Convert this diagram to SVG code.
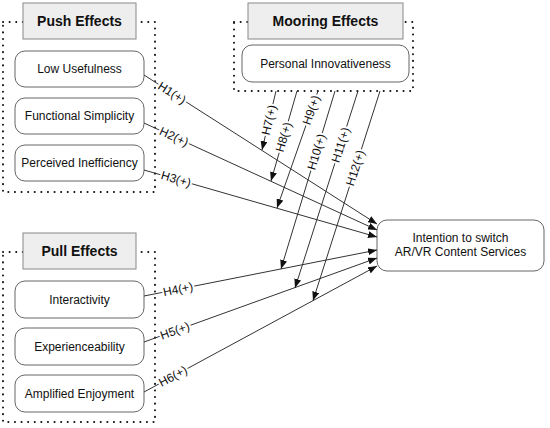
<svg xmlns="http://www.w3.org/2000/svg" width="550" height="428" viewBox="0 0 550 428">
<defs>
<style>
.dot{fill:none;stroke:#111;stroke-width:2;stroke-dasharray:0.1 6.5;stroke-linecap:round}
.hdr{fill:#eeeeee;stroke:#888;stroke-width:1}
.node{fill:#fff;stroke:#666;stroke-width:1}
.ht{font-family:"Liberation Sans",Arial,sans-serif;font-size:14px;font-weight:bold;fill:#111;text-anchor:middle;dominant-baseline:central}
.nt{font-family:"Liberation Sans",Arial,sans-serif;font-size:12px;fill:#111;text-anchor:middle;dominant-baseline:central}
.ln{stroke:#333;stroke-width:1;fill:none;marker-end:url(#ah)}
.lb{font-family:"Liberation Sans",Arial,sans-serif;font-size:12px;fill:#111;text-anchor:middle;dominant-baseline:central;stroke:#fff;stroke-width:4;paint-order:stroke;stroke-linejoin:round}
</style>
<marker id="ah" markerUnits="userSpaceOnUse" markerWidth="9" markerHeight="7" refX="9" refY="3.5" orient="auto">
<path d="M0,0 L9,3.5 L0,7 z" fill="#111"/>
</marker>
</defs>
<rect class="dot" x="3" y="22" width="152" height="170"/>
<rect class="dot" x="234" y="22" width="179" height="69"/>
<rect class="dot" x="3" y="252" width="152" height="170"/>
<g id="push-header"><rect class="hdr" x="23" y="3" width="113" height="36"/><text class="ht" x="79.5" y="21">Push Effects</text></g>
<g id="mooring-header"><rect class="hdr" x="248" y="3" width="155" height="36"/><text class="ht" x="325.5" y="21">Mooring Effects</text></g>
<g id="pull-header"><rect class="hdr" x="23" y="233" width="113" height="36"/><text class="ht" x="79.5" y="251">Pull Effects</text></g>
<g id="low-usefulness"><rect class="node" x="15" y="51" width="129" height="36" rx="10"/><text class="nt" x="79.5" y="69">Low Usefulness</text></g>
<g id="functional-simplicity"><rect class="node" x="15" y="98" width="129" height="36" rx="10"/><text class="nt" x="79.5" y="116">Functional Simplicity</text></g>
<g id="perceived-inefficiency"><rect class="node" x="15" y="145" width="129" height="36" rx="10"/><text class="nt" x="79.5" y="163">Perceived Inefficiency</text></g>
<g id="personal-innovativeness"><rect class="node" x="242" y="45" width="167" height="37" rx="10"/><text class="nt" x="325.5" y="63.5">Personal Innovativeness</text></g>
<g id="interactivity"><rect class="node" x="15" y="281" width="129" height="37" rx="10"/><text class="nt" x="79.5" y="299.5">Interactivity</text></g>
<g id="experienceability"><rect class="node" x="15" y="328" width="129" height="37" rx="10"/><text class="nt" x="79.5" y="346.5">Experienceability</text></g>
<g id="amplified-enjoyment"><rect class="node" x="15" y="375" width="129" height="37" rx="10"/><text class="nt" x="79.5" y="393.5">Amplified Enjoyment</text></g>
<g id="intention"><rect class="node" x="377" y="220" width="167" height="51" rx="10"/><text class="nt" x="460.5" y="238">Intention to switch</text><text class="nt" x="460.5" y="252">AR/VR Content Services</text></g>
<g id="connectors">
<line class="ln" x1="144" y1="75" x2="377" y2="224"/>
<line class="ln" x1="144" y1="123" x2="377" y2="230"/>
<line class="ln" x1="144" y1="170" x2="377" y2="237"/>
<line class="ln" x1="144" y1="296" x2="377" y2="250"/>
<line class="ln" x1="144" y1="342" x2="377" y2="258"/>
<line class="ln" x1="144" y1="392" x2="377" y2="266"/>
<line class="ln" x1="276" y1="91" x2="262" y2="150"/>
<line class="ln" x1="297" y1="91" x2="271" y2="181"/>
<line class="ln" x1="318" y1="91" x2="277" y2="208"/>
<line class="ln" x1="335" y1="91" x2="281" y2="269"/>
<line class="ln" x1="358" y1="91" x2="295" y2="288"/>
<line class="ln" x1="380" y1="91" x2="313" y2="300.6"/>
<text class="lb" transform="translate(172,93) rotate(32.6)">H1(+)</text>
<text class="lb" transform="translate(174,136.8) rotate(24.7)">H2(+)</text>
<text class="lb" transform="translate(176,179.2) rotate(16)">H3(+)</text>
<text class="lb" transform="translate(178,289.3) rotate(-11.2)">H4(+)</text>
<text class="lb" transform="translate(175,330.8) rotate(-19.8)">H5(+)</text>
<text class="lb" transform="translate(173,376.3) rotate(-28.4)">H6(+)</text>
<text class="lb" transform="translate(269.1,120) rotate(-76.7)">H7(+)</text>
<text class="lb" transform="translate(283.7,137) rotate(-73.9)">H8(+)</text>
<text class="lb" transform="translate(311.3,110) rotate(-70.7)">H9(+)</text>
<text class="lb" transform="translate(316.5,152) rotate(-73.1)">H10(+)</text>
<text class="lb" transform="translate(340.7,145) rotate(-72.3)">H11(+)</text>
<text class="lb" transform="translate(355.4,168) rotate(-72.3)">H12(+)</text>
</g>
</svg>
